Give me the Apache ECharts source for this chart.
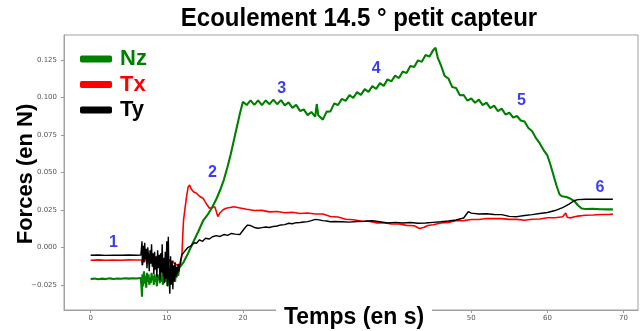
<!DOCTYPE html>
<html>
<head>
<meta charset="utf-8">
<script src="https://cdn.jsdelivr.net/npm/echarts@6/dist/echarts.min.js"></script>
<style>html,body{margin:0;padding:0;background:#fff}#c{width:640px;height:331px}</style>
</head>
<body>
<div id="c"></div>
<script>
// ---- data ----
const seriesNames = ['Nz', 'Tx', 'Ty'];
const xTicks = [0, 10, 20, 30, 40, 50, 60, 70];
const yTicks = [-0.025, 0, 0.025, 0.05, 0.075, 0.1, 0.125];

const nzT = [0,0.5,1,1.5,2,2.5,3,3.5,4,4.5,5,5.5,6,6.6,
  6.7,6.75,6.8,6.9,7.0,7.1,7.2,7.3,7.4,7.5,7.6,7.7,7.8,7.9,8.0,8.1,8.2,8.3,8.4,8.5,8.6,8.7,8.8,8.9,9.0,9.1,9.2,9.3,9.4,9.5,9.6,9.7,9.8,9.9,10.0,10.1,10.2,10.3,10.4,10.5,10.6,10.7,10.8,10.9,11.0,11.1,11.2,11.3,11.4,11.5,11.6,11.7,
  12.2,12.8,13.4,14.1,14.8,15.4,15.9,16.5,17.0,17.5,18.0,18.4,18.8,19.2,19.6,
  20.0,20.5,21.0,21.5,22.0,22.5,23.0,23.5,24.0,24.5,25.0,25.5,26.0,26.5,27.0,27.5,28.0,28.5,29.0,29.5,29.7,29.9,30.0,30.5,31.0,31.5,32.0,32.5,33.0,33.5,34.0,34.5,35.0,35.5,36.0,36.5,37.0,37.5,38.0,38.5,39.0,39.5,40.0,40.5,41.0,41.5,42.0,42.5,43.0,43.5,44.0,44.5,45.0,45.3,45.6,46.0,46.5,47.0,47.5,48.0,48.5,49.0,49.5,50.0,50.5,51.0,51.5,52.0,52.5,53.0,53.5,54.0,54.5,55.0,55.5,56.0,56.5,57.0,57.5,58.0,58.5,59.0,59.5,60.0,60.4,60.8,61.2,61.6,61.9,62.5,63.0,63.5,64.0,64.5,65.0,66.0,67.0,68.0,68.6];
const nzV = [-0.0212,-0.0208,-0.0213,-0.0209,-0.0212,-0.0207,-0.0211,-0.0208,-0.0210,-0.0206,-0.0209,-0.0206,-0.0208,-0.0205,
  -0.021,-0.033,-0.018,-0.026,-0.016,-0.024,-0.019,-0.027,-0.017,-0.023,-0.018,-0.025,-0.020,-0.024,-0.017,-0.022,-0.019,-0.025,-0.018,-0.023,-0.020,-0.026,-0.018,-0.022,-0.019,-0.024,-0.017,-0.023,-0.019,-0.025,-0.018,-0.022,-0.017,-0.023,-0.019,-0.026,-0.018,-0.021,-0.016,-0.024,-0.018,-0.022,-0.016,-0.021,-0.017,-0.023,-0.016,-0.020,-0.015,-0.019,-0.014,-0.015,
  -0.010,-0.004,0.0027,0.010,0.018,0.022,0.026,0.032,0.038,0.045,0.054,0.062,0.071,0.080,0.089,
  0.0970,0.0948,0.0979,0.0949,0.0979,0.0948,0.0979,0.0954,0.0984,0.0954,0.0981,0.0946,0.0966,0.0929,0.0949,0.0909,0.0919,0.0881,0.0902,0.0871,0.0955,0.0880,0.0892,0.0851,0.0904,0.0906,0.0959,0.0948,0.0989,0.0976,0.1014,0.0996,0.1034,0.1016,0.1054,0.1036,0.1074,0.1056,0.1094,0.1076,0.1119,0.1106,0.1144,0.1128,0.1172,0.1161,0.1209,0.1201,0.1246,0.1236,0.1282,0.1271,0.1314,0.1330,0.1262,0.1215,0.1143,0.1125,0.1068,0.1062,0.1013,0.1015,0.0978,0.0992,0.0963,0.0984,0.0948,0.0964,0.0928,0.0944,0.0908,0.0924,0.0885,0.0897,0.0865,0.0875,0.0845,0.0838,0.0795,0.0773,0.0727,0.0692,0.0648,0.0612,0.0550,0.0480,0.0410,0.0352,0.0340,0.0335,0.0325,0.0310,0.0280,0.0258,0.0255,0.0256,0.0254,0.0253,0.0253];

const txT = [0,1,2,3,4,5,6,6.7,
  6.8,6.9,7.0,7.2,7.4,7.6,7.8,8.0,8.2,8.4,8.6,8.8,9.0,9.2,9.4,9.6,9.8,10.0,10.2,10.4,10.6,10.8,11.0,11.2,11.4,11.6,11.8,
  12.0,12.1,12.2,12.4,12.6,12.8,13.0,13.2,13.5,13.9,14.3,14.8,15.2,15.6,16.0,16.3,16.5,16.7,17.0,17.4,17.8,18.3,18.8,19.3,19.8,
  20.5,21.5,22.5,23.5,24.5,25.5,26.5,27.5,28.5,29.5,30.5,31.5,32.5,33.5,34.5,35.5,36.5,37.5,38.5,39.5,40.5,41.5,42.5,43.2,43.8,44.3,45,46,47,48,49,50,51,52,53,54,55,56,57,58,59,60,61,62,62.4,62.6,63,64,65,66,67,68,68.6];
const txV = [-0.0086,-0.0084,-0.0086,-0.0085,-0.0086,-0.0084,-0.0085,-0.0085,
  -0.012,-0.006,-0.010,-0.007,-0.011,-0.004,-0.009,-0.006,-0.011,-0.008,-0.012,-0.007,-0.010,-0.006,-0.011,-0.008,-0.012,-0.009,-0.011,-0.008,-0.012,-0.009,-0.011,-0.010,-0.012,-0.011,-0.012,
  -0.004,0.008,0.018,0.026,0.034,0.040,0.0415,0.039,0.037,0.036,0.034,0.0325,0.029,0.026,0.0265,0.027,0.024,0.0205,0.023,0.025,0.026,0.0265,0.027,0.0265,0.026,
  0.0253,0.0245,0.0246,0.0236,0.0239,0.0230,0.0233,0.0225,0.0229,0.0222,0.0222,0.0205,0.0202,0.0187,0.0184,0.0175,0.0174,0.0163,0.0164,0.0155,0.0155,0.0146,0.0144,0.0125,0.0133,0.0145,0.0150,0.0162,0.0166,0.0177,0.0178,0.0185,0.0185,0.0192,0.0191,0.0191,0.0186,0.0186,0.0180,0.0187,0.0189,0.0197,0.0197,0.0204,0.0228,0.0200,0.0196,0.0208,0.0214,0.0215,0.0219,0.0219,0.0221];

const tyT = [0,1,2,3,4,5,6,6.6,
  6.7,6.75,6.8,6.9,7.0,7.1,7.2,7.3,7.4,7.5,7.6,7.7,7.8,7.9,8.0,8.1,8.2,8.3,8.4,8.5,8.6,8.7,8.8,8.9,9.0,9.1,9.2,9.3,9.4,9.5,9.6,9.7,9.8,9.9,10.0,10.1,10.2,10.3,10.4,10.5,10.6,10.7,10.8,10.9,11.0,11.1,11.2,11.3,11.4,11.5,11.6,11.7,11.8,12.0,
  12.3,12.8,13.2,13.6,13.9,14.3,14.7,15.1,15.6,16.0,16.5,17.0,17.5,18.0,18.5,19.0,19.6,20.2,20.6,21.0,21.5,22.0,22.5,23.0,23.5,24.0,24.5,25.0,25.5,26.0,26.5,27.0,27.5,28.0,28.5,29.0,29.5,30.0,30.5,31.0,31.5,32,33,34,35,36,37,38,39,40,41,42,43,44,45,46,47,48,49,49.6,50,51,52,53,54,55,56,57,58,59,60,61,62,62.9,63.5,64,65,66,67,68,68.6];
const tyV = [-0.0053,-0.0051,-0.0054,-0.0052,-0.0053,-0.0051,-0.0053,-0.0052,
  -0.005,0.004,-0.012,0.001,-0.010,0.003,-0.008,-0.001,-0.014,0.000,-0.006,-0.016,-0.002,-0.011,0.002,-0.013,-0.004,-0.018,-0.003,-0.015,-0.006,-0.020,-0.002,-0.014,-0.005,-0.022,-0.004,-0.017,0.002,-0.019,-0.007,-0.024,-0.003,-0.021,0.004,-0.026,0.007,-0.020,-0.031,-0.006,-0.025,-0.009,-0.028,-0.012,-0.023,-0.010,-0.020,-0.013,-0.018,-0.011,-0.016,-0.012,-0.009,-0.005,
  -0.003,0.000,0.001,0.003,0.0027,0.005,0.004,0.006,0.0055,0.007,0.0078,0.0072,0.0085,0.0079,0.0092,0.0088,0.0085,0.0125,0.0148,0.0145,0.0132,0.0127,0.0131,0.0135,0.0132,0.0139,0.0142,0.0149,0.0151,0.0160,0.0157,0.0164,0.0165,0.0169,0.0171,0.0178,0.0186,0.0183,0.0178,0.0175,0.0170,0.0172,0.0170,0.0168,0.0172,0.0174,0.0177,0.0170,0.0162,0.0166,0.0162,0.0165,0.0160,0.0162,0.0166,0.0170,0.0175,0.0182,0.0195,0.0237,0.0228,0.0222,0.0224,0.0219,0.0218,0.0206,0.0204,0.0212,0.0218,0.0225,0.0232,0.0245,0.0265,0.0289,0.0310,0.0318,0.0320,0.0320,0.0321,0.0320,0.0320];

const annX = [3.0, 16.0, 25.1, 37.5, 56.6, 66.9];
const annY = [0.003, 0.0495, 0.106, 0.119, 0.098, 0.0395];
const annText = ['1', '2', '3', '4', '5', '6'];

const colors = ['#008000', '#ff0000', '#000000'];

function zip(t, v) { return t.map((x, i) => [x, v[i]]); }
const chart = echarts.init(document.getElementById('c'), null, { renderer: 'canvas' });

const option = {
  animation: false,
  backgroundColor: '#fff',
  grid: { left: 64, right: 2, top: 35, bottom: 21, show: true, borderColor: '#a0a0a0', borderWidth: 1, backgroundColor: 'transparent' },
  legend: {
    orient: 'vertical', left: 75, top: 43, itemGap: 3.5,
    itemWidth: 32, itemHeight: 7, icon: 'roundRect',
    textStyle: { fontFamily: 'Liberation Sans', fontWeight: 'bold', fontSize: 22, lineHeight: 22, padding: [0, 0, 0, 3] },
    data: seriesNames.map((n, i) => ({ name: n, textStyle: { color: colors[i] } }))
  },
  xAxis: {
    type: 'value', min: -3.5, max: 71.9,
    axisLine: { show: true, onZero: false, lineStyle: { color: '#a0a0a0' } },
    axisTick: { show: true, length: 3, lineStyle: { color: '#999' }, customValues: xTicks },
    axisLabel: { fontSize: 7, color: '#555', fontFamily: 'DejaVu Sans', margin: 5, customValues: xTicks },
    splitLine: { show: false }
  },
  yAxis: {
    type: 'value', min: -0.0418, max: 0.1415,
    axisLine: { show: true, onZero: false, lineStyle: { color: '#a0a0a0' } },
    axisTick: { show: true, length: 3, lineStyle: { color: '#999' }, customValues: yTicks },
    axisLabel: { fontSize: 7, color: '#555', fontFamily: 'DejaVu Sans', margin: 7, customValues: yTicks,
      formatter: v => (v < -1e-9 ? '\u2212' : '') + Math.abs(v).toFixed(3) },
    splitLine: { show: false }
  },
  series: [
    { name: 'Nz', type: 'line', data: zip(nzT, nzV), showSymbol: false, color: colors[0], lineStyle: { width: 2.1, color: colors[0] }, z: 3 },
    { name: 'Tx', type: 'line', data: zip(txT, txV), showSymbol: false, color: colors[1], lineStyle: { width: 1.6, color: colors[1] }, z: 2 },
    { name: 'Ty', type: 'line', data: zip(tyT, tyV), showSymbol: false, color: colors[2], lineStyle: { width: 1.4, color: colors[2] }, z: 4 },
    { name: 'labels', type: 'scatter', symbolSize: 1, itemStyle: { color: 'rgba(0,0,0,0)' },
      data: annX.map((x, i) => [x, annY[i], annText[i]]),
      label: { show: true, position: 'inside', formatter: p => p.value[2], color: '#0a0aee', fontSize: 16, fontWeight: 'bold', fontFamily: 'Liberation Sans' },
      z: 5 }
  ],
  graphic: [
    { type: 'text', x: 359, y: 19, scaleY: 1.1, z: 100,
      style: { text: 'Ecoulement 14.5 ° petit capteur', font: 'bold 24px "Liberation Sans"', fill: '#000', textAlign: 'center', textVerticalAlign: 'middle' } },
    { type: 'text', x: 26, y: 174, rotation: Math.PI / 2, z: 100,
      style: { text: 'Forces (en N)', font: 'bold 22px "Liberation Sans"', fill: '#000', textAlign: 'center', textVerticalAlign: 'middle' } },
    { type: 'text', x: 354, y: 318, z: 100,
      style: { text: 'Temps (en s)', font: 'bold 23px "Liberation Sans"', fill: '#000', textAlign: 'center', textVerticalAlign: 'middle',
        backgroundColor: '#fff', padding: [5, 8, 5, 8] } }
  ]
};
chart.setOption(option);
</script>
</body>
</html>
